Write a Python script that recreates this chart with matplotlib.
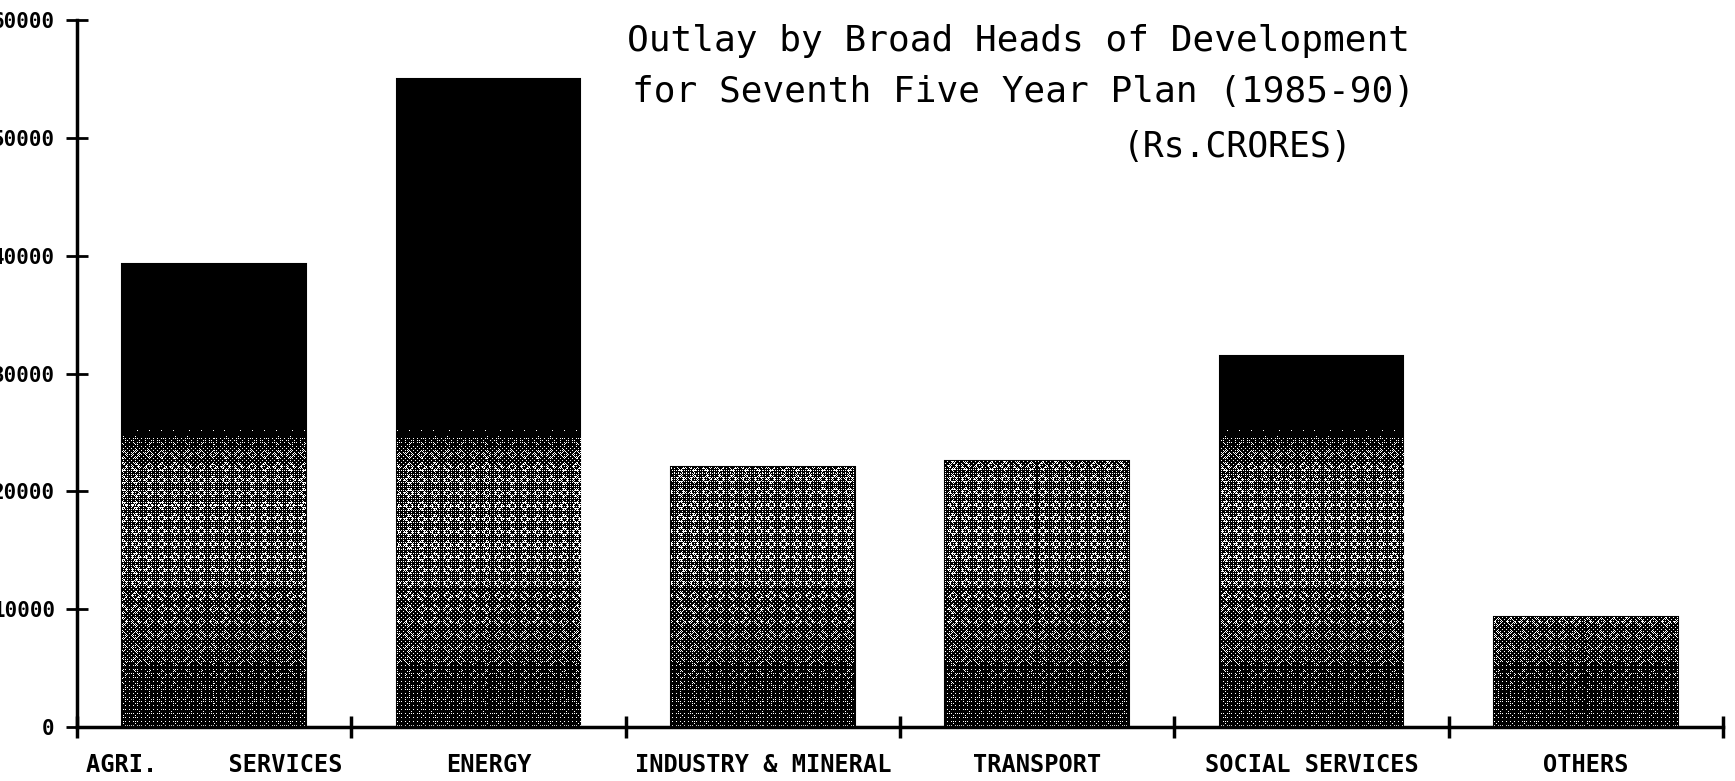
import numpy as np
import matplotlib
matplotlib.use("Agg")
import matplotlib.pyplot as plt

# values (Rs. crores)
categories = ["AGRI.     SERVICES", "ENERGY", "INDUSTRY & MINERAL",
              "TRANSPORT", "SOCIAL SERVICES", "OTHERS"]
outlay = [39300, 55000, 22100, 22600, 31500, 9300]
y_ticks = [0, 10000, 20000, 30000, 40000, 50000, 60000]
title_lines = ["Outlay by Broad Heads of Development",
               "for Seventh Five Year Plan (1985-90)",
               "(Rs.CRORES)"]

W, H = 1735, 781
fig = plt.figure(figsize=(W / 100, H / 100), dpi=100)
ax = fig.add_axes([77 / W, 1 - 727 / H, (1723 - 77) / W, (727 - 20) / H])

ymax = 60000
ax.set_xlim(0, len(categories))
ax.set_ylim(0, ymax)

# dithered grey fill that looks like the scanned shading
def shade_image(nx=1650, ny=710):
    yy = np.linspace(ymax, 0, ny)
    prof = np.interp(yy, [0, 3000, 9000, 14000, 19000, 22000, 23500, 25000, 25500, 60000],
                     [0.12, 0.18, 0.38, 0.50, 0.50, 0.45, 0.30, 0.04, 0.0, 0.0])
    i = np.arange(ny)[:, None]
    j = np.arange(nx)[None, :]
    p = 13
    u = (j % p) / p - 0.5
    v = (i % p) / p - 0.5
    d = np.abs(u) + np.abs(v)
    tri = ((d > 0.18) & (d < 0.42) & (np.abs(np.abs(u) - np.abs(v)) > 0.06)).astype(float)
    b = np.array([[0, 8, 2, 10], [12, 4, 14, 6], [3, 11, 1, 9], [15, 7, 13, 5]]) / 16 + 1 / 32
    thr = np.tile(b, (ny // 4 + 1, nx // 4 + 1))[:ny, :nx]
    inten = prof[:, None] * (0.35 + 1.1 * tri)
    return (inten > thr).astype(float)

img = shade_image()
x = np.arange(len(categories)) + 0.5
bars = ax.bar(x, outlay, width=0.67, color="black", edgecolor="black", lw=1.5, zorder=2)
for bar in bars:
    im = ax.imshow(img, extent=[0, len(categories), 0, ymax], aspect="auto",
                   cmap="gray", vmin=0, vmax=1, interpolation="nearest", zorder=3)
    im.set_clip_path(bar)

for s in ["top", "right"]:
    ax.spines[s].set_visible(False)
for s in ["left", "bottom"]:
    ax.spines[s].set_linewidth(2.5)
    ax.spines[s].set_zorder(5)

ax.set_yticks(y_ticks)
ax.set_yticklabels([str(v) for v in y_ticks], family="DejaVu Sans Mono",
                   fontweight="bold", fontsize=15)
ax.tick_params(axis="y", direction="inout", length=16, width=2, pad=8)

ax.set_xticks(np.arange(len(categories) + 1))
ax.set_xticklabels([])
ax.tick_params(axis="x", which="major", direction="inout", length=16, width=2.5)
ax.set_xticks(x, minor=True)
ax.set_xticklabels(categories, minor=True, family="DejaVu Sans Mono",
                   fontweight="bold", fontsize=17)
ax.tick_params(axis="x", which="minor", length=0, pad=19)

fig.text(627 / W, 1 - 41 / H, title_lines[0], family="DejaVu Sans Mono",
         fontsize=26, ha="left", va="center")
fig.text(632 / W, 1 - 92 / H, title_lines[1], family="DejaVu Sans Mono",
         fontsize=26, ha="left", va="center")
fig.text(1123 / W, 1 - 147 / H, title_lines[2], family="DejaVu Sans Mono",
         fontsize=25, ha="left", va="center")

fig.savefig("out.png", dpi=100)
